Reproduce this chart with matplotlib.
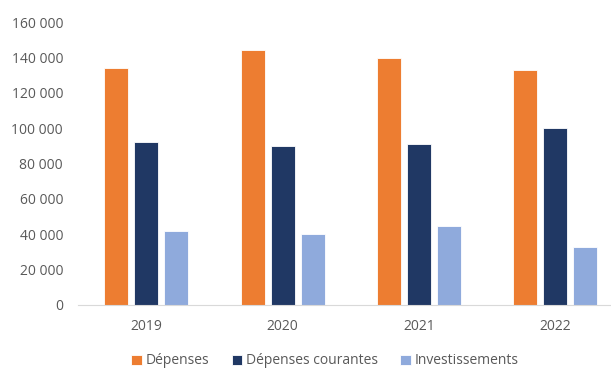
import numpy as np
import matplotlib
matplotlib.use("Agg")
import matplotlib.pyplot as plt
from matplotlib.ticker import FuncFormatter

years = ["2019", "2020", "2021", "2022"]
depenses = [134000, 144000, 139500, 133000]
courantes = [92000, 89700, 91200, 100000]
investissements = [41800, 40100, 44500, 33000]

series_names = ["Dépenses", "Dépenses courantes", "Investissements"]
colors = ["#ED7D31", "#203864", "#8FAADC"]

plt.rcParams['font.family'] = ['Open Sans', 'DejaVu Sans']

fig = plt.figure(figsize=(6.11, 3.69), dpi=100)
# plot area runs off the right edge of the picture, as in the reference
ax = fig.add_axes([78.3 / 611, 1 - 305 / 369, 545 / 611, 283 / 369])

x = np.arange(len(years))
w = 0.176
step = 0.22
for i, (vals, name, c) in enumerate(zip([depenses, courantes, investissements], series_names, colors)):
    ax.bar(x + (i - 1) * step, vals, width=w, color=c, edgecolor="white", linewidth=0.6, label=name)

ax.set_xlim(-0.5, 3.5)
ax.set_ylim(0, 160000)
ax.set_yticks(np.arange(0, 160001, 20000))
ax.yaxis.set_major_formatter(FuncFormatter(lambda v, p: "{:,}".format(int(v)).replace(",", " ")))
ax.set_xticks(x)
ax.set_xticklabels(years)

for s in ["top", "right", "left"]:
    ax.spines[s].set_visible(False)
ax.spines["bottom"].set_color("#D9D9D9")
ax.tick_params(axis="both", length=0, labelsize=10, colors="#595959")
ax.tick_params(axis="y", pad=11)
ax.tick_params(axis="x", pad=10)

fig.legend(loc="center", bbox_to_anchor=(325 / 611, 1 - 361 / 369), ncol=3, frameon=False,
           fontsize=10, labelcolor="#595959", handlelength=0.75, handleheight=0.75,
           handletextpad=0.3, columnspacing=1.6)

fig.savefig("out.png", dpi=100)
